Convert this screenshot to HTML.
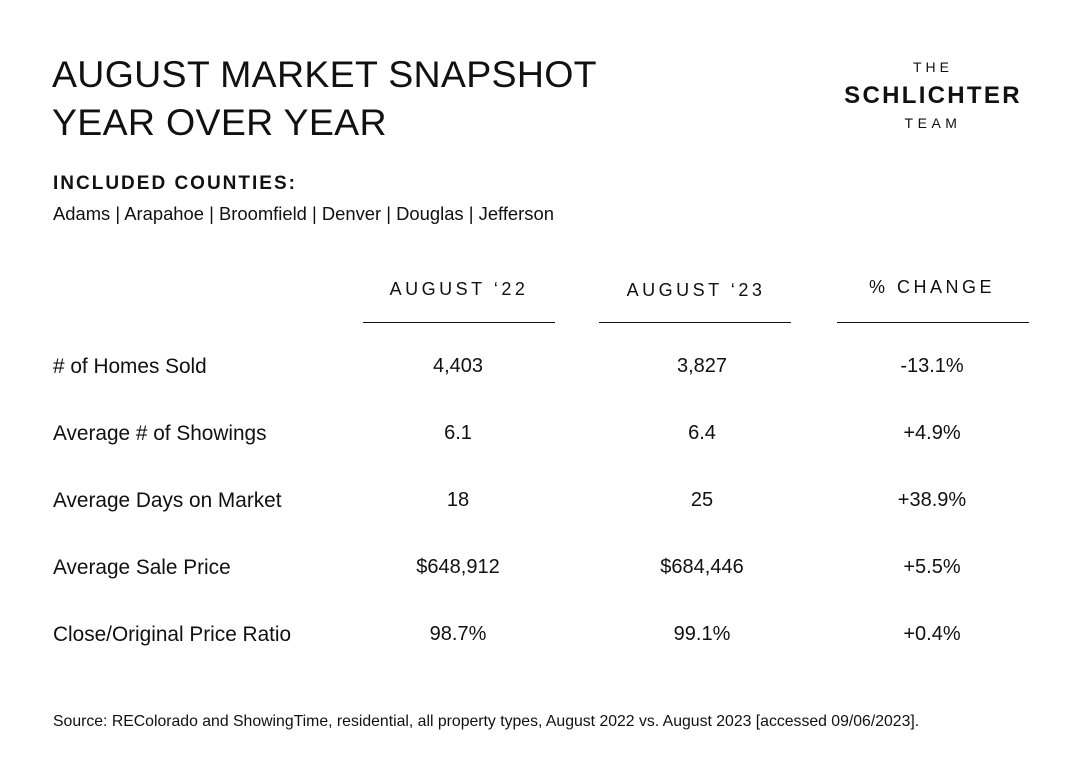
<!DOCTYPE html>
<html><head><meta charset="utf-8"><style>
body{margin:0;width:1080px;height:771px;background:#fff;position:relative;font-family:"Liberation Sans",sans-serif;color:#111;overflow:hidden}
.a{position:absolute;white-space:nowrap}
.t{font-size:37.5px;letter-spacing:0.3px;left:52px;line-height:1}
.c{transform:translateX(-50%)}
.h{font-size:18px;letter-spacing:3.5px}
.l{font-size:20.8px;left:53px}
.v{font-size:20px}
.rule{position:absolute;top:322px;height:1px;width:192px;background:#111}
</style></head><body>
<div class="a t" style="top:56px">AUGUST MARKET SNAPSHOT</div>
<div class="a t" style="top:104px">YEAR OVER YEAR</div>
<div class="a c" style="left:933px;top:59px;font-size:14px;letter-spacing:4px">THE</div>
<div class="a c" style="left:933px;top:82px;font-size:24px;font-weight:bold;letter-spacing:2.3px">SCHLICHTER</div>
<div class="a c" style="left:933px;top:115px;font-size:14px;letter-spacing:4.5px">TEAM</div>
<div class="a" style="left:53px;top:173px;font-size:19px;font-weight:bold;letter-spacing:2px">INCLUDED COUNTIES:</div>
<div class="a" style="left:53px;top:203px;font-size:18.4px">Adams | Arapahoe | Broomfield | Denver | Douglas | Jefferson</div>
<div class="a c h" style="left:459px;top:279px">AUGUST ‘22</div>
<div class="a c h" style="left:696px;top:280px">AUGUST ‘23</div>
<div class="a c h" style="left:932px;top:277px">% CHANGE</div>
<div class="rule" style="left:363px"></div>
<div class="rule" style="left:599px"></div>
<div class="rule" style="left:837px"></div>
<div id="rows"></div>
<div class="a" style="left:53px;top:713px;font-size:15.8px">Source: REColorado and ShowingTime, residential, all property types, August 2022 vs. August 2023 [accessed 09/06/2023].</div>
<script>
const labels=["# of Homes Sold","Average # of Showings","Average Days on Market","Average Sale Price","Close/Original Price Ratio"];
const aug22=["4,403","6.1","18","$648,912","98.7%"];
const aug23=["3,827","6.4","25","$684,446","99.1%"];
const changes=["-13.1%","+4.9%","+38.9%","+5.5%","+0.4%"];
const root=document.getElementById('rows');
labels.forEach((lab,i)=>{
  const top=355+i*67;
  const l=document.createElement('div');l.className='a l';l.style.top=top+'px';l.textContent=lab;
  
  
  root.appendChild(l);
  [[aug22[i],458],[aug23[i],702],[changes[i],932]].forEach(([t,x],j)=>{
    const d=document.createElement('div');d.className='a c v';d.style.left=x+'px';d.style.top=top+'px';d.textContent=t;
    
    
    root.appendChild(d);
  });
});
</script>
</body></html>
